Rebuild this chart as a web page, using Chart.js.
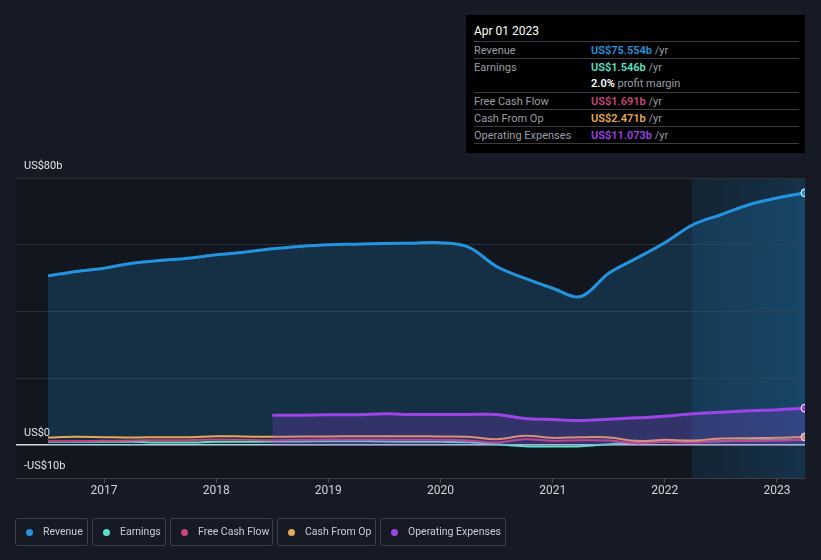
<!DOCTYPE html>
<html>
<head>
<meta charset="utf-8">
<script src="https://cdn.jsdelivr.net/npm/chart.js@4.4.0/dist/chart.umd.min.js"></script>
<style>
  body { margin: 0; background: #151a24; font-family: Roboto, sans-serif; }
  #wrap { position: relative; width: 821px; height: 560px; }
  #tip { position: absolute; left: 466px; top: 15px; width: 339px; height: 138px; background: #000; color: #9a9ea6; font-size: 11px; }
  #tip .date { position: absolute; left: 8px; top: 9px; color: #fff; font-size: 12px; }
  #tip .row { position: absolute; left: 8px; width: 325px; border-top: 1px solid #3a3d44; height: 17px; line-height: 17px; }
  #tip .row span.l { position: absolute; left: 0; }
  #tip .row span.v { position: absolute; left: 117px; }
  #tip b { font-weight: 600; }
  #tip .last { position: absolute; left: 8px; width: 325px; top: 128px; border-top: 1px solid #3a3d44; }
  #legend { position: absolute; left: 15px; top: 518px; display: flex; }
  #legend div { box-sizing: border-box; height: 28px; border: 1px solid #3a3f4a; border-radius: 2px; margin-right: 4px; padding: 0 0 0 10px; color: #c8ccd2; font-size: 10.5px; line-height: 26px; display: flex; align-items: center; }
  #legend i { display: inline-block; width: 7px; height: 7px; border-radius: 50%; margin-right: 10px; }
</style>
</head>
<body>
<div id="wrap">
  <canvas id="chart" width="821" height="560"></canvas>
  <div id="tip">
    <div class="date">Apr 01 2023</div>
    <div class="row" style="top:26px"><span class="l">Revenue</span><span class="v"><b style="color:#2394df">US$75.554b</b> /yr</span></div>
    <div class="row" style="top:43px"><span class="l">Earnings</span><span class="v"><b style="color:#5ce0c8">US$1.546b</b> /yr</span></div>
    <div class="row" style="top:60px;border-top:none"><span class="v"><b style="color:#fff">2.0%</b> profit margin</span></div>
    <div class="row" style="top:77px"><span class="l">Free Cash Flow</span><span class="v"><b style="color:#c9457f">US$1.691b</b> /yr</span></div>
    <div class="row" style="top:94px"><span class="l">Cash From Op</span><span class="v"><b style="color:#e8a85a">US$2.471b</b> /yr</span></div>
    <div class="row" style="top:111px"><span class="l">Operating Expenses</span><span class="v"><b style="color:#9d44e8">US$11.073b</b> /yr</span></div>
    <div class="last"></div>
  </div>
  <div id="legend"></div>
</div>
<script>
// quarterly dates as decimal years
const dates = [2016.5, 2016.75, 2017, 2017.25, 2017.5, 2017.75, 2018, 2018.25, 2018.5, 2018.75,
  2019, 2019.25, 2019.5, 2019.75, 2020, 2020.25, 2020.5, 2020.75, 2021, 2021.25,
  2021.5, 2021.75, 2022, 2022.25, 2022.5, 2022.75, 2023, 2023.25];
const revenue = [50.7, 52, 53, 54.5, 55.3, 56, 57, 57.8, 58.8, 59.5,
  60, 60.2, 60.4, 60.5, 60.6, 59.3, 53.5, 50, 47, 44.5,
  51.5, 56, 60.6, 66, 69, 72, 74, 75.554];
const earnings = [1.0, 1.0, 1.0, 1.0, 0.8, 0.8, 1.0, 1.0, 1.1, 1.1,
  1.2, 1.2, 1.1, 1.0, 1.0, 0.9, 0.3, -0.3, -0.4, -0.3,
  0.3, 0.8, 1.0, 1.0, 1.2, 1.4, 1.5, 1.546];
const freeCashFlow = [1.2, 1.2, 1.3, 1.4, 1.5, 1.5, 1.7, 1.6, 1.5, 1.6,
  1.7, 1.7, 1.7, 1.6, 1.6, 1.4, 0.8, 1.8, 1.3, 1.5,
  1.4, 0.6, 1.0, 0.8, 1.2, 1.3, 1.4, 1.691];
const cashFromOp = [2.3, 2.5, 2.4, 2.3, 2.4, 2.4, 2.7, 2.6, 2.5, 2.6,
  2.6, 2.7, 2.7, 2.7, 2.6, 2.5, 1.8, 2.8, 2.2, 2.4,
  2.3, 1.3, 1.6, 1.4, 2.0, 2.1, 2.2, 2.471];
const opExpenses = [null, null, null, null, null, null, null, null, 9.0, 9.0,
  9.1, 9.1, 9.4, 9.2, 9.2, 9.2, 9.2, 8.0, 7.7, 7.4,
  7.8, 8.2, 8.7, 9.4, 9.9, 10.3, 10.6, 11.073];
const yearTicks = [2017, 2018, 2019, 2020, 2021, 2022, 2023];
const yTicks = [-10, 0, 20, 40, 60, 80];
const highlightStart = 2022.24;

const series = [
  { name: 'Revenue', color: '#2394df', data: revenue, fill: 'rgba(35,148,223,0.2)', width: 3, box: 73 },
  { name: 'Earnings', color: '#5ce0c8', data: earnings, width: 2, box: 74 },
  { name: 'Free Cash Flow', color: '#c9457f', data: freeCashFlow, width: 2, box: 103 },
  { name: 'Cash From Op', color: '#e8a85a', data: cashFromOp, width: 2, box: 99 },
  { name: 'Operating Expenses', color: '#9d44e8', data: opExpenses, fill: 'rgba(157,68,232,0.22)', width: 3, box: 126 }
];

let legend = document.getElementById('legend');
series.forEach(s => {
  let item = document.createElement('div');
  item.style.width = s.box + 'px';
  item.innerHTML = '<i style="background:' + s.color + '"></i>' + s.name;
  legend.appendChild(item);
});

const endDot = ['Revenue', 'Cash From Op', 'Operating Expenses'];

// plot background + shaded last year, drawn before grid lines
const backdrop = {
  id: 'backdrop',
  beforeDraw(chart) {
    const { ctx, chartArea: a, scales: { x } } = chart;
    ctx.save();
    ctx.fillStyle = '#12161f';
    ctx.fillRect(a.left, a.top, a.right - a.left, a.bottom - a.top);
    const hx = x.getPixelForValue(highlightStart);
    let g = ctx.createLinearGradient(hx, 0, a.right, 0);
    g.addColorStop(0, 'rgba(22,48,68,0.55)');
    g.addColorStop(1, 'rgba(22,60,90,0.75)');
    ctx.fillStyle = g;
    ctx.fillRect(hx, a.top, a.right - hx, a.bottom - a.top);
    ctx.restore();
  }
};

new Chart(document.getElementById('chart'), {
  type: 'line',
  data: {
    datasets: series.slice().reverse().map(s => ({
      label: s.name,
      data: dates.map((d, i) => ({ x: d, y: s.data[i] })),
      borderColor: s.color,
      borderWidth: s.width,
      backgroundColor: s.fill || 'transparent',
      fill: s.fill ? 'origin' : false,
      tension: 0.35,
      spanGaps: false,
      pointRadius: ctx => (endDot.includes(s.name) && ctx.dataIndex === dates.length - 1) ? 4 : 0,
      pointBackgroundColor: s.color,
      pointBorderColor: '#fff',
      pointBorderWidth: 1
    }))
  },
  options: {
    responsive: false,
    animation: false,
    layout: { padding: { left: 0, right: 16, top: 178, bottom: 61 } },
    plugins: { legend: { display: false }, tooltip: { enabled: false } },
    scales: {
      x: {
        type: 'linear',
        min: 2016.215,
        max: 2023.25,
        afterBuildTicks: s => { s.ticks = yearTicks.map(v => ({ value: v })); },
        ticks: { color: '#d0d3d8', font: { family: 'Roboto', size: 12 }, callback: v => String(v), padding: 1, autoSkip: false, maxRotation: 0 },
        grid: { drawOnChartArea: false, drawTicks: true, tickLength: 4, color: '#4a4e57' },
        border: { color: '#3a3e47' }
      },
      y: {
        min: -10,
        max: 80,
        afterBuildTicks: s => { s.ticks = yTicks.map(v => ({ value: v })); },
        ticks: {
          mirror: true,
          autoSkip: false,
          padding: 8,
          labelOffset: -12,
          color: '#e0e2e6',
          font: { family: 'Roboto', size: 11 },
          callback: v => v === 80 ? 'US$80b' : v === 0 ? 'US$0' : v === -10 ? '-US$10b' : ''
        },
        grid: {
          drawTicks: false,
          color: ctx => ctx.tick && ctx.tick.value === 0 ? '#d8dadd' : (ctx.tick && ctx.tick.value === -10 ? '#3a3e47' : '#2b2f38'),
          lineWidth: ctx => ctx.tick && ctx.tick.value === 0 ? 1.5 : 1
        },
        border: { display: false }
      }
    }
  },
  plugins: [backdrop]
});
</script>
</body>
</html>
